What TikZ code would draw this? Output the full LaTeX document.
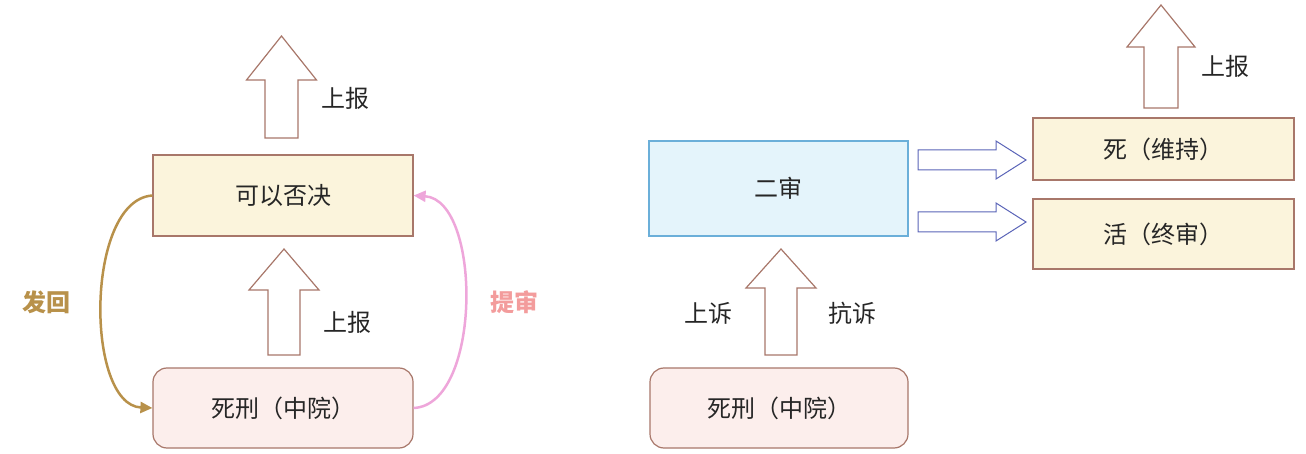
\documentclass[tikz,border=0pt]{standalone}
\usepackage{fontspec}
\setmainfont{Noto Sans CJK SC}
\usetikzlibrary{arrows.meta}
\definecolor{brd}{HTML}{A8776A}
\definecolor{cream}{HTML}{FBF4DC}
\definecolor{pinkf}{HTML}{FCEEEC}
\definecolor{bluef}{HTML}{E4F4FB}
\definecolor{blueb}{HTML}{6BAFD9}
\definecolor{gold}{HTML}{B8914A}
\definecolor{pinkc}{HTML}{EEA6DA}
\definecolor{pinkt}{HTML}{F39C9C}
\definecolor{arrb}{HTML}{5A64B8}
\tikzset{x=1pt,y=-1pt,
 txt/.style={font=\fontsize{24}{28}\selectfont,text=black!85},
 box/.style={draw=brd,line width=1.2pt,fill=cream,minimum width=260pt,txt},
 rbox/.style={box,fill=pinkf,rounded corners=14pt,minimum height=80pt},
 blk/.style={draw=brd,line width=1.2pt,fill=white},
 blkb/.style={draw=arrb,line width=1pt,fill=white}}
\newcommand{\uparr}[7]{% cx, ybot, ytop, headbase, halfshaft, halfhead, style
 \draw[#7] (#1-#5,#2) -- (#1-#5,#4) -- (#1-#6,#4) -- (#1,#3) -- (#1+#6,#4) -- (#1+#5,#4) -- (#1+#5,#2) -- cycle;}
\newcommand{\rtarr}[7]{% cy, xl, xr, headbase, halfshaft, halfhead, style
 \draw[#7] (#2,#1-#5) -- (#4,#1-#5) -- (#4,#1-#6) -- (#3,#1) -- (#4,#1+#6) -- (#4,#1+#5) -- (#2,#1+#5) -- cycle;}
\begin{document}
\begin{tikzpicture}
\useasboundingbox (0,0) rectangle (1306,454);
% left
\node[box,minimum height=81pt] (veto) at (283,195.5) {可以否决};
\node[rbox] (zy1) at (283,408) {死刑（中院）};
\uparr{281.5}{138}{36}{80}{16.5}{35}{blk}
\node[txt] (sb1) at (345,98) {上报};
\uparr{284}{355}{249}{290}{16}{35}{blk}
\node[txt] (sb2) at (347,322) {上报};
\draw[gold,line width=2.5pt,-{Triangle[length=12pt,width=11pt]}] (veto.west) .. controls (85,200) and (85,405) .. (zy1.west);
\node[txt,font=\fontsize{24}{28}\selectfont\bfseries,text=gold] (fh) at (47,302) {发回};
\draw[pinkc,line width=2.5pt,-{Triangle[length=12pt,width=11pt]}] (zy1.east) .. controls (482,405) and (482,200) .. (veto.east);
\node[txt,font=\fontsize{24}{28}\selectfont\bfseries,text=pinkt] (ts) at (514,302) {提审};
% right
\node[box,fill=bluef,draw=blueb,minimum height=95pt,minimum width=259pt] (es) at (778.5,188.5) {二审};
\node[rbox,minimum width=258pt] (zy2) at (779,408) {死刑（中院）};
\uparr{781}{355}{249}{288}{16}{35}{blk}
\node[txt] (ss) at (708,313) {上诉};
\node[txt] (ks) at (852,313) {抗诉};
\node[box,minimum height=62pt,minimum width=261pt] (si) at (1163.5,149) {死（维持）};
\node[box,minimum height=70pt,minimum width=261pt] (huo) at (1163.5,234) {活（终审）};
\rtarr{160}{918}{1026}{996}{10}{19}{blkb}
\rtarr{222}{918}{1026}{996}{10}{19}{blkb}
\uparr{1161}{108}{5}{47}{17}{34}{blk}
\node[txt] (sb3) at (1225,66) {上报};
\end{tikzpicture}
\end{document}
